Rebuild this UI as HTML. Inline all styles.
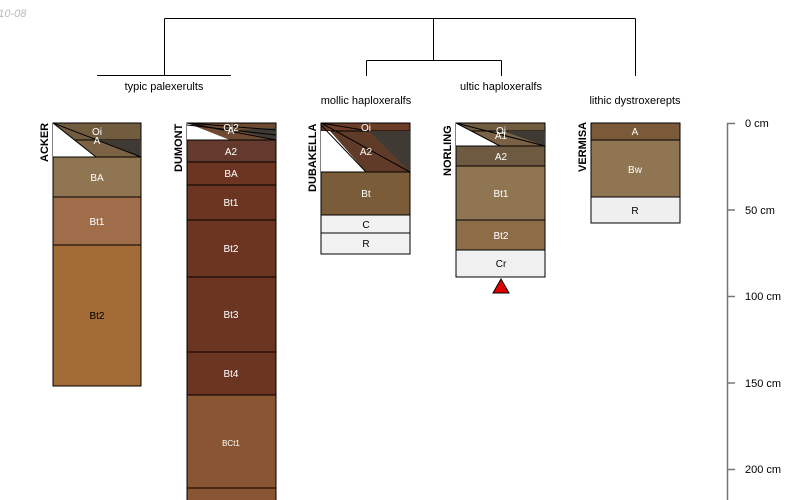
<!DOCTYPE html>
<html><head><meta charset="utf-8"><style>
html,body{margin:0;padding:0;background:#fff;width:800px;height:500px;overflow:hidden}
svg text{font-family:"Liberation Sans",sans-serif}
</style></head><body>
<svg width="800" height="500" viewBox="0 0 800 500" xmlns="http://www.w3.org/2000/svg">
<text x="-14" y="17" font-size="11" fill="#bbb" font-style="italic">2010-08</text>
<g stroke="#000" stroke-width="1" fill="none">
<path d="M164.5 18.5H635.5M164.5 18.5V75.5M635.5 18.5V76M433.5 18.5V60.5M366.5 60.5H501.5M366.5 60.5V76M501.5 60.5V76M97 75.5H231"/>
</g>
<g font-size="11" fill="#000" text-anchor="middle">
<text x="164" y="90">typic palexerults</text>
<text x="366" y="104">mollic haploxeralfs</text>
<text x="501" y="90">ultic haploxeralfs</text>
<text x="635" y="104">lithic dystroxerepts</text>
</g>
<g font-size="11" font-weight="bold" fill="#000">
<text transform="translate(48,162) rotate(-90)">ACKER</text>
<text transform="translate(182,172) rotate(-90)">DUMONT</text>
<text transform="translate(316,192) rotate(-90)">DUBAKELLA</text>
<text transform="translate(451,176) rotate(-90)">NORLING</text>
<text transform="translate(586,172) rotate(-90)">VERMISA</text>
</g>
<g stroke="#000" stroke-width="1">
<rect x="53" y="123" width="88" height="17" fill="#725c40"/>
<rect x="53" y="140" width="88" height="17" fill="#7b6245"/>
<polygon points="53,123 53,157 96,157" fill="#fff" stroke="none"/>
<polygon points="98,140 141,140 141,157" fill="#3f3a34" stroke="none"/>
<line x1="53" y1="123" x2="141" y2="157"/><line x1="53" y1="123" x2="96" y2="157"/>
<rect x="53" y="157" width="88" height="40" fill="#8f7552"/>
<rect x="53" y="197" width="88" height="48" fill="#a06d4b"/>
<rect x="53" y="245" width="88" height="141" fill="#a36b36"/>
<rect x="187" y="123" width="89" height="17" fill="#6f4a32"/>
<polygon points="187,123 187,140 230,140" fill="#fff" stroke="none"/>
<polygon points="235,130 276,128 276,140" fill="#3f3a34" stroke="none"/>
<line x1="187" y1="123" x2="276" y2="140"/><line x1="187" y1="123" x2="276" y2="130"/><line x1="187" y1="125" x2="276" y2="135"/>
<rect x="187" y="140" width="89" height="22" fill="#653a2e"/>
<rect x="187" y="162" width="89" height="23" fill="#6b3521"/>
<rect x="187" y="185" width="89" height="35" fill="#6b3521"/>
<rect x="187" y="220" width="89" height="57" fill="#6b3521"/>
<rect x="187" y="277" width="89" height="75" fill="#6b3521"/>
<rect x="187" y="352" width="89" height="43" fill="#6b3521"/>
<rect x="187" y="395" width="89" height="93" fill="#8a5533"/>
<rect x="187" y="488" width="89" height="20" fill="#8a5533"/>
<rect x="321" y="123" width="89" height="8" fill="#6b3d27"/>
<rect x="321" y="131" width="89" height="41" fill="#5f3b28"/>
<polygon points="321,131 330,131 366,172 321,172" fill="#fff" stroke="none"/>
<polygon points="369,131 410,131 410,172" fill="#3f3a34" stroke="none"/>
<line x1="321" y1="123" x2="410" y2="172"/><line x1="321" y1="123" x2="369" y2="131"/><line x1="321" y1="125" x2="366" y2="172"/>
<rect x="321" y="172" width="89" height="43" fill="#7a5c38"/>
<rect x="321" y="215" width="89" height="18" fill="#f2f2f2"/>
<rect x="321" y="233" width="89" height="21" fill="#f2f2f2"/>
<rect x="456" y="123" width="89" height="8" fill="#725c40"/>
<rect x="456" y="131" width="89" height="15" fill="#7b6245"/>
<polygon points="456,123 456,146 500,146" fill="#fff" stroke="none"/>
<polygon points="503,131 545,131 545,146" fill="#3f3a34" stroke="none"/>
<line x1="456" y1="123" x2="545" y2="146"/><line x1="456" y1="123" x2="500" y2="146"/>
<rect x="456" y="146" width="89" height="20" fill="#6e5a40"/>
<rect x="456" y="166" width="89" height="54" fill="#8f7552"/>
<rect x="456" y="220" width="89" height="30" fill="#8c6d48"/>
<rect x="456" y="250" width="89" height="27" fill="#f0f0f0"/>
<polygon points="501,279 493,293 509,293" fill="#e00000"/>
<rect x="591" y="123" width="89" height="17" fill="#7a5a38"/>
<rect x="591" y="140" width="89" height="57" fill="#8f7552"/>
<rect x="591" y="197" width="89" height="26" fill="#efefef"/>
</g>
<g font-size="10" fill="#fff" text-anchor="middle">
<text x="97" y="135">Oi</text><text x="97" y="144">A</text>
<text x="97" y="181">BA</text><text x="97" y="225">Bt1</text>
<text x="97" y="319" fill="#000">Bt2</text>
<text x="231" y="131">Oi2</text><text x="231" y="134">A</text>
<text x="231" y="155">A2</text><text x="231" y="177">BA</text>
<text x="231" y="206">Bt1</text><text x="231" y="252">Bt2</text>
<text x="231" y="318">Bt3</text><text x="231" y="377">Bt4</text>
<text x="231" y="446" font-size="8">BCt1</text>
<text x="366" y="131">Oi</text><text x="366" y="155">A2</text>
<text x="366" y="197">Bt</text>
<text x="366" y="228" fill="#000">C</text><text x="366" y="247" fill="#000">R</text>
<text x="501" y="134">Oi</text><text x="501" y="139">A1</text>
<text x="501" y="160">A2</text><text x="501" y="197">Bt1</text>
<text x="501" y="239">Bt2</text><text x="501" y="267" fill="#000">Cr</text>
<text x="635" y="135">A</text><text x="635" y="173">Bw</text>
<text x="635" y="214" fill="#000">R</text>
</g>
<g stroke="#777" stroke-width="1.5">
<line x1="727.5" y1="123" x2="727.5" y2="500"/>
<line x1="727" y1="123.5" x2="735" y2="123.5"/>
<line x1="727" y1="210" x2="735" y2="210"/>
<line x1="727" y1="296.5" x2="735" y2="296.5"/>
<line x1="727" y1="383" x2="735" y2="383"/>
<line x1="727" y1="469.5" x2="735" y2="469.5"/>
</g>
<g font-size="11" fill="#000">
<text x="745" y="127">0 cm</text><text x="745" y="214">50 cm</text>
<text x="745" y="300">100 cm</text><text x="745" y="387">150 cm</text>
<text x="745" y="473">200 cm</text>
</g>
</svg>
</body></html>
